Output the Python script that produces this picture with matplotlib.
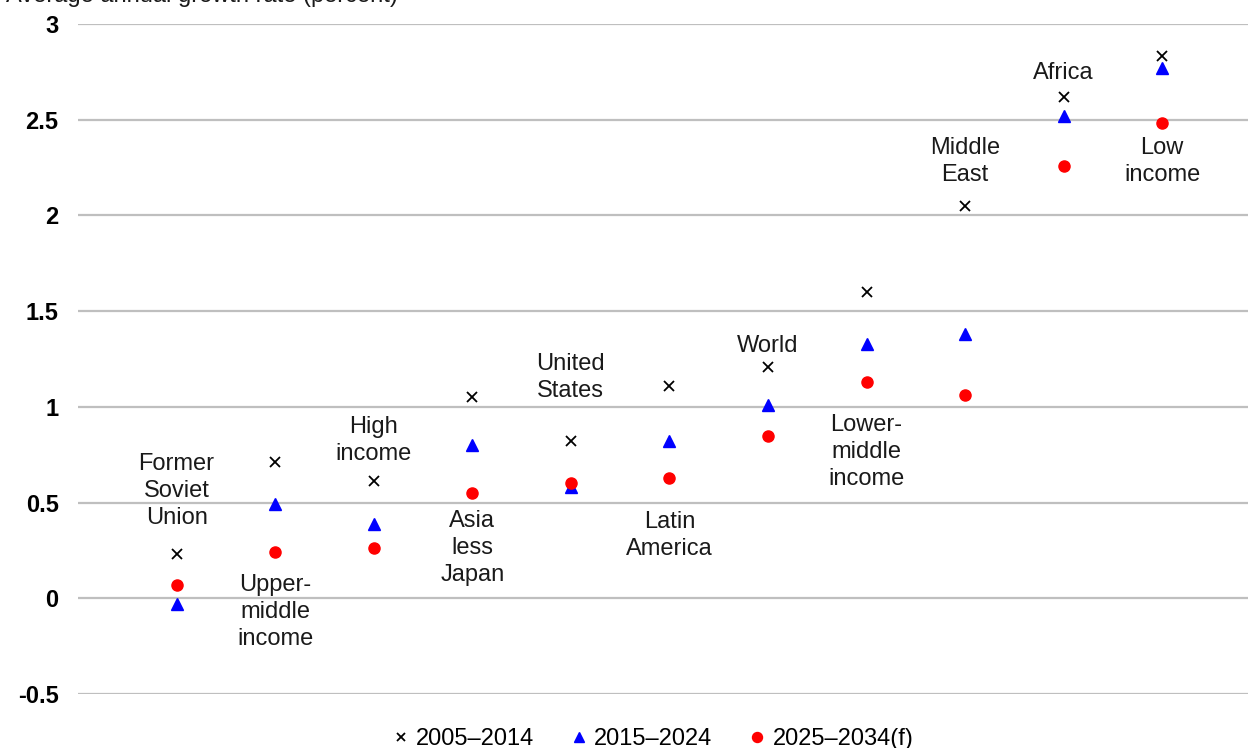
import matplotlib.pyplot as plt
import numpy as np

plt.rcParams['font.family'] = ['Liberation Sans', 'DejaVu Sans']

# regions, left to right
labels = ["Former\nSoviet\nUnion", "Upper-\nmiddle\nincome", "High\nincome",
          "Asia\nless\nJapan", "United\nStates", "Latin\nAmerica", "World",
          "Lower-\nmiddle\nincome", "Middle\nEast", "Africa", "Low\nincome"]
g_2005_2014 = [0.23, 0.71, 0.61, 1.05, 0.82, 1.11, 1.21, 1.60, 2.05, 2.62, 2.83]
g_2015_2024 = [-0.03, 0.49, 0.39, 0.80, 0.58, 0.82, 1.01, 1.33, 1.38, 2.52, 2.77]
g_2025_2034 = [0.07, 0.24, 0.26, 0.55, 0.60, 0.63, 0.85, 1.13, 1.06, 2.26, 2.48]
# where each region's name sits (data units, centre of text block)
label_y = [0.56, -0.072, 0.825, 0.263, 1.155, 0.33, 1.318, 0.765, 2.28, 2.745, 2.28]

yticks = [-0.5, 0, 0.5, 1, 1.5, 2, 2.5, 3]
ytick_labels = ["-0.5", "0", "0.5", "1", "1.5", "2", "2.5", "3"]

fig = plt.figure(figsize=(12.48, 7.48), dpi=100)
ax = fig.add_axes([0.0625, 0.0722, 0.9375, 0.8958])

x = np.arange(1, len(labels) + 1)
ax.plot(x, g_2005_2014, linestyle='none', marker='x', color='black',
        markersize=7, markeredgewidth=1.3, label='2005–2014')
ax.plot(x, g_2015_2024, linestyle='none', marker='^', color='#0000ff',
        markersize=8, label='2015–2024')
ax.plot(x, g_2025_2034, linestyle='none', marker='o', color='#ff0000',
        markersize=8, label='2025–2034(f)')

for xi, lab, ly in zip(x, labels, label_y):
    ax.text(xi, ly, lab, ha='center', va='center', fontsize=17,
            linespacing=1.3, color='#1a1a1a')

ax.set_xlim(0, 11.87)
ax.set_ylim(-0.5, 3)
ax.set_yticks(yticks)
ax.set_yticklabels(ytick_labels, fontsize=17, fontweight='bold')
ax.set_xticks([])
ax.tick_params(axis='y', length=0, pad=14)
ax.grid(axis='y', color='#bfbfbf', linewidth=1.6)
ax.set_axisbelow(True)
for s in ax.spines.values():
    s.set_visible(False)

fig.text(0.005, 1.006, "Average annual growth rate (percent)", fontsize=17,
         ha='left', va='center', color='#1a1a1a')

ax.legend(loc='center', bbox_to_anchor=(0.49, -0.067), ncol=3, frameon=False,
          fontsize=17, handletextpad=0.14, columnspacing=1.4, handlelength=1.0,
          markerscale=0.9)

fig.savefig('out.png', dpi=100)
